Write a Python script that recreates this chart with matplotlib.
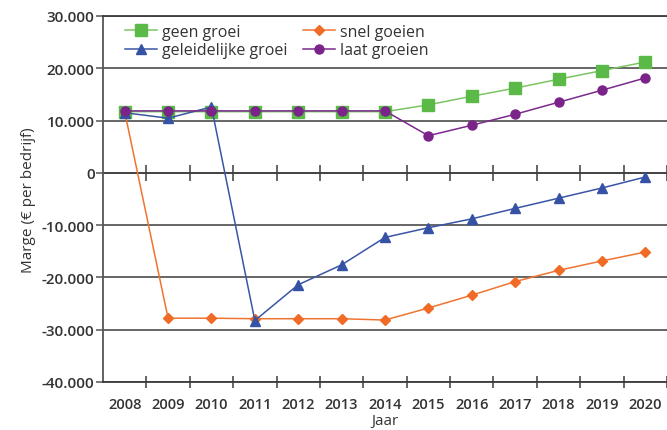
import matplotlib
matplotlib.use('Agg')
import matplotlib.pyplot as plt
from matplotlib.ticker import FuncFormatter, FixedLocator

plt.rcParams['font.family'] = ['Open Sans', 'DejaVu Sans']

years = ['2008', '2009', '2010', '2011', '2012', '2013', '2014',
         '2015', '2016', '2017', '2018', '2019', '2020']

geen_groei = [11700, 11700, 11700, 11700, 11700, 11700, 11700,
              13000, 14650, 16200, 17900, 19550, 21200]
snel_goeien = [11700, -27800, -27800, -27900, -27900, -27900, -28150,
               -25850, -23400, -20800, -18650, -16850, -15150]
geleidelijke_groei = [11500, 10450, 12600, -28250, -21400, -17600, -12350,
                      -10500, -8800, -6800, -4850, -2900, -800]
laat_groeien = [11850, 11850, 11850, 11850, 11850, 11850, 11850,
                7100, 9100, 11200, 13500, 15800, 18150]

y_ticks = [-40000, -30000, -20000, -10000, 0, 10000, 20000, 30000]

text_col = '#333333'
grid_col = '#3c3c3c'

fig = plt.figure(figsize=(6.67, 4.31), dpi=100)
ax = fig.add_axes([0.1544, 0.1114, 0.8456, 0.8492])

x = list(range(len(years)))

l_geen, = ax.plot(x, geen_groei, color='#7cc563', lw=1.1, marker='s',
                  ms=9, mfc='#5bb947', mec='#5bb947', zorder=3)
l_snel, = ax.plot(x, snel_goeien, color='#f07431', lw=1.1, marker='D',
                  ms=5.5, mfc='#f06b25', mec='#f06b25', zorder=4)
l_gel, = ax.plot(x, geleidelijke_groei, color='#3a55a6', lw=1.1, marker='^',
                 ms=7.5, mfc='#3552a5', mec='#3552a5', zorder=4)
l_laat, = ax.plot(x, laat_groeien, color='#7b2a8c', lw=1.1, marker='o',
                  ms=6.5, mfc='#7a2389', mec='#7a2389', zorder=5)

ax.set_xlim(-0.5, len(years) - 0.5)
ax.set_ylim(y_ticks[0], y_ticks[-1])

# y axis
ax.set_yticks(y_ticks)
ax.yaxis.set_major_formatter(FuncFormatter(lambda v, p: '{:,.0f}'.format(v).replace(',', '.')))
ax.tick_params(axis='y', direction='out', length=5, width=1.1, color='#555555',
               pad=1, labelsize=11, labelcolor=text_col)
for lab in ax.get_yticklabels():
    lab.set_fontweight('semibold')
ax.yaxis.grid(True, color=grid_col, lw=1.1, zorder=1)
ax.set_axisbelow(True)

# x axis: labels at categories, tick marks between them
ax.set_xticks(x)
ax.set_xticklabels(years, fontweight='semibold')
ax.xaxis.set_minor_locator(FixedLocator([i + 0.5 for i in x]))
ax.tick_params(axis='x', which='major', length=0, pad=11, labelsize=10.5,
               labelcolor=text_col)
ax.tick_params(axis='x', which='minor', direction='inout', length=8.5,
               width=1.1, color=grid_col)

# ticks crossing the zero line
zero_pos = (0 - y_ticks[0]) / (y_ticks[-1] - y_ticks[0])
sec = ax.secondary_xaxis(zero_pos)
sec.set_xticks([i + 0.5 for i in x])
sec.tick_params(axis='x', direction='inout', length=12, width=1.1,
                color=grid_col, labelbottom=False, labeltop=False)
sec.spines['top'].set_color(grid_col)
sec.spines['top'].set_linewidth(1.1)

ax.spines['right'].set_visible(False)
ax.spines['top'].set_color(grid_col)
ax.spines['top'].set_linewidth(1.3)
ax.spines['left'].set_color('#555555')
ax.spines['left'].set_linewidth(1.3)
ax.spines['bottom'].set_color(grid_col)
ax.spines['bottom'].set_linewidth(1.3)

ax.set_ylabel('Marge (€ per bedrijf)', fontsize=11, color=text_col, labelpad=4)
ax.set_xlabel('Jaar', fontsize=11, color=text_col, labelpad=1)

leg = ax.legend([l_geen, l_gel, l_snel, l_laat],
                ['geen groei', 'geleidelijke groei', 'snel goeien', 'laat groeien'],
                ncol=2, loc='upper left', bbox_to_anchor=(0.025, 1.0),
                frameon=False, fontsize=11.5, handlelength=2.0, handletextpad=0.3,
                columnspacing=1.0, labelspacing=0.15, borderaxespad=0.1)
for t in leg.get_texts():
    t.set_color(text_col)

fig.savefig('out.png', dpi=100)
